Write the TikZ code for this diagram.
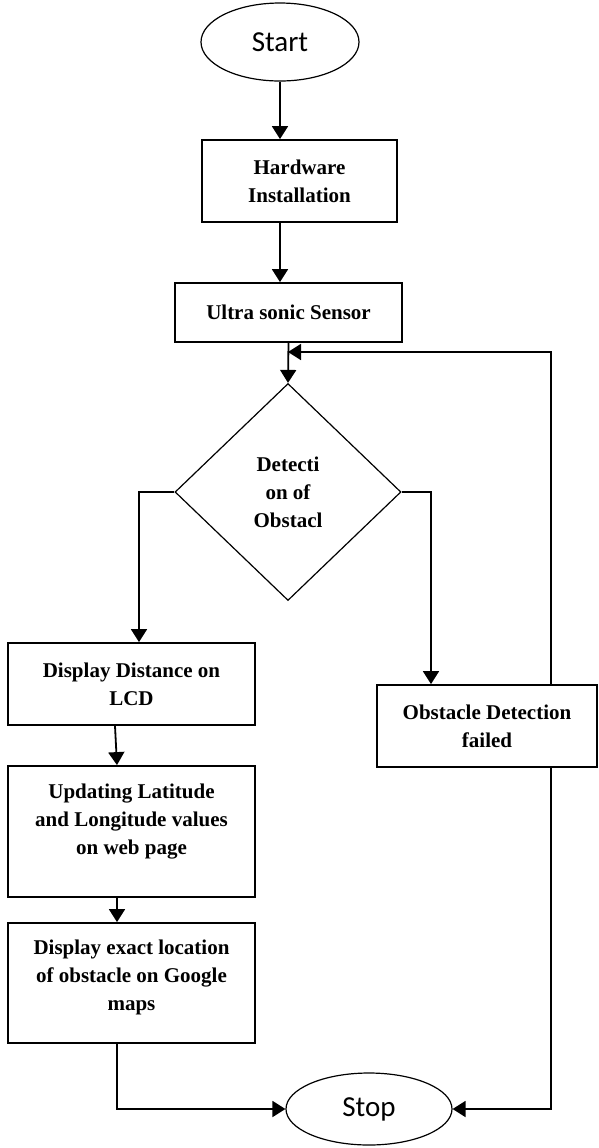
\documentclass[tikz,border=0pt]{standalone}
\usepackage{fontspec}
\setmainfont{Liberation Serif}
\newfontfamily\calibri{Carlito}
\usetikzlibrary{shapes.geometric,arrows.meta}

\begin{document}
\begin{tikzpicture}[x=0.5pt,y=-0.5pt,
  procbox/.style={draw,line width=0.9pt,rectangle,align=center,inner sep=0pt,
    font=\fontsize{10.5}{14}\selectfont\bfseries},
  term/.style={draw,line width=0.6pt,ellipse,inner sep=0pt,
    font=\fontsize{14.5}{17}\calibri},
  decision/.style={draw,line width=0.6pt,diamond,align=center,inner sep=0pt,
    font=\fontsize{10.5}{14}\selectfont\bfseries},
  arr/.style={line width=0.9pt,-{Triangle[length=6.5pt,width=8pt]}}]
  \useasboundingbox (0,0) rectangle (599,1148);
  \node[term,minimum width=79pt,minimum height=39pt] (start) at (280,42) {Start};
  \node[procbox,minimum width=97.5pt,minimum height=41pt] (hw) at (299.5,181) {Hardware\\Installation};
  \node[procbox,minimum width=113.5pt,minimum height=29.5pt] (us) at (288.5,312.5) {Ultra sonic Sensor};
  \node[decision,minimum width=113pt,minimum height=108.5pt] (dec) at (288,492) {Detecti\\on of\\Obstacl};
  \node[procbox,minimum width=123.5pt,minimum height=41pt] (dd) at (131.5,684) {Display Distance on\\LCD};
  \node[procbox,minimum width=123.5pt,minimum height=65.5pt] (up) at (131.5,831.5) {Updating Latitude\\and Longitude values\\on web page\\[-2pt]\mbox{}};
  \node[procbox,minimum width=123.5pt,minimum height=60pt] (gm) at (131.5,983) {Display exact location\\of obstacle on Google\\maps\\[-6pt]\mbox{}};
  \node[procbox,minimum width=110pt,minimum height=41pt] (of) at (487,726) {Obstacle Detection\\failed};
  \node[term,minimum width=83pt,minimum height=36pt] (stop) at (369,1109) {Stop};
  \coordinate (join) at (288,352);
  \draw[arr] (start.south) -- (start.south |- hw.north);
  \draw[arr] (start.south |- hw.south) -- (start.south |- us.north);
  \draw[arr] (us.south) -- (dec.north);
  \draw[arr] (dec.west) -| ([xshift=3.75pt]dd.north);
  \draw[arr] (dec.east) -| ([xshift=-28pt]of.north);
  \draw[arr] ([xshift=32pt]of.north) |- (join);
  \draw[arr] ([xshift=-8.25pt]dd.south) -- ([xshift=-7.25pt]up.north);
  \draw[arr] ([xshift=-7.25pt]up.south) -- ([xshift=-7.25pt]gm.north);
  \draw[arr] ([xshift=-7.25pt]gm.south) |- (stop.west);
  \draw[arr] ([xshift=32pt]of.south) |- (stop.east);
\end{tikzpicture}
\end{document}
